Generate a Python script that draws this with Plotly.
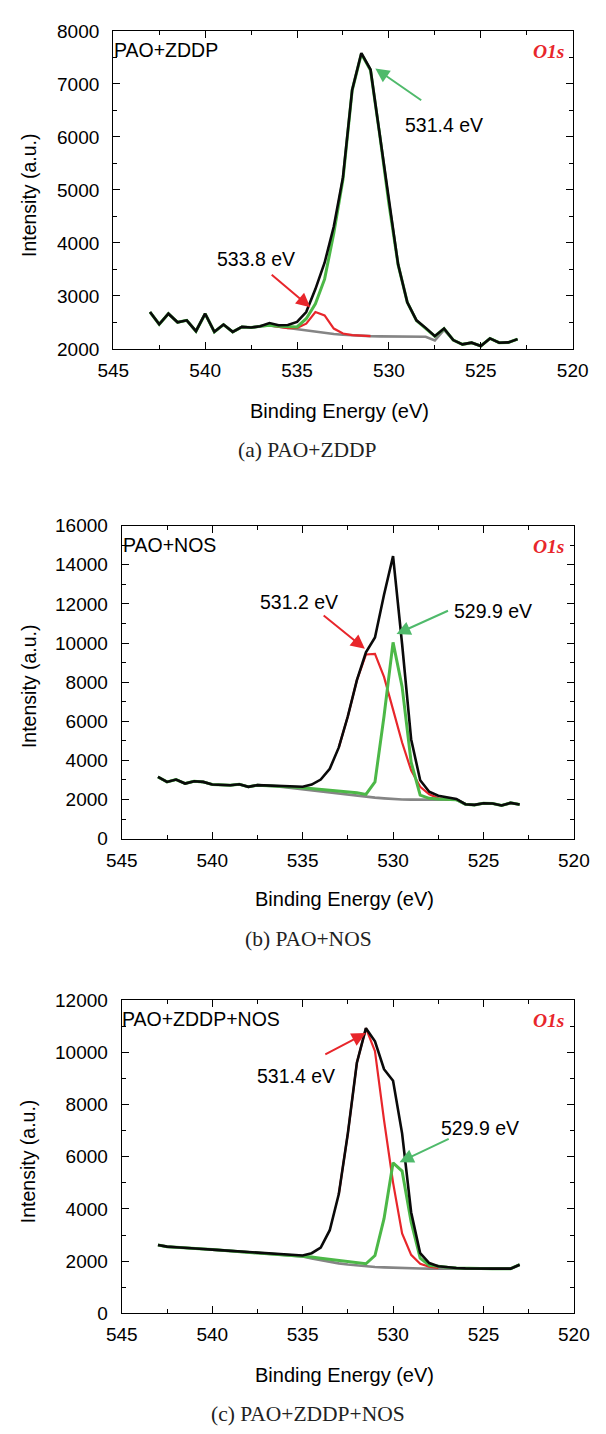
import plotly.graph_objects as go

W, H = 606, 1434

# ---------------- data ----------------
energy = [543, 542.5, 542, 541.5, 541, 540.5, 540, 539.5, 539, 538.5, 538, 537.5, 537,
          536.5, 536, 535.5, 535, 534.5, 534, 533.5, 533, 532.5, 532, 531.5, 531, 530.5,
          530, 529.5, 529, 528.5, 528, 527.5, 527, 526.5, 526, 525.5, 525, 524.5, 524,
          523.5, 523]

# (a) PAO+ZDDP
a_total = [2696, 2466, 2665, 2503, 2540, 2335, 2665, 2323, 2460, 2323, 2416, 2404, 2428,
           2490, 2447, 2453, 2509, 2696, 3130, 3627, 4311, 5242, 6888, 7584, 7273, 6050,
           4745, 3596, 2882, 2540, 2398, 2242, 2385, 2168, 2087, 2118, 2056, 2199, 2118,
           2124, 2186]
a_bg = [2696, 2466, 2665, 2503, 2540, 2335, 2665, 2323, 2460, 2323, 2416, 2404, 2428,
        2445, 2420, 2395, 2370, 2345, 2320, 2300, 2283, 2268, 2256, 2248, 2242, 2238,
        2235, 2233, 2232, 2231, 2230, 2160, 2360, 2168, 2087, 2118, 2056, 2199, 2118,
        2124, 2186]
a_peak1 = [2696, 2466, 2665, 2503, 2540, 2335, 2665, 2323, 2460, 2323, 2416, 2404, 2428,
           2445, 2430, 2420, 2416, 2571, 2851, 3317, 4186, 5200, 6880, 7570, 7260, 6040,
           4740, 3590, 2880, 2535, 2395, 2240, 2385, 2168, 2087, 2118, 2056, 2199, 2118,
           2124, 2186]
a_peak2 = [None, None, None, None, None, None, None, None, None, None, None, None, None,
           2445, 2420, 2395, 2398, 2478, 2696, 2634, 2385, 2292, 2262, 2250, 2242, None,
           None, None, None, None, None, None, None, None, None, None, None, None, None,
           None, None]

# (b) PAO+NOS
b_total = [3154, 2903, 3020, 2819, 2936, 2903, 2768, 2752, 2735, 2785, 2651, 2735, 2718,
           2701, 2668, 2651, 2651, 2768, 3020, 3574, 4664, 6258, 8104, 9530, 10285, 12466,
           14446, 9950, 5084, 2987, 2399, 2198, 2114, 2030, 1762, 1728, 1812, 1795, 1695,
           1829, 1745]
b_bg = [3154, 2903, 3020, 2819, 2936, 2903, 2768, 2752, 2735, 2785, 2651, 2735, 2718,
        2680, 2630, 2575, 2517, 2465, 2415, 2365, 2315, 2260, 2205, 2150, 2097, 2060,
        2025, 2005, 1995, 1990, 1990, 1995, 2000, 1990, 1762, 1728, 1812, 1795, 1695,
        1829, 1745]
b_peak1 = [3154, 2903, 3020, 2819, 2936, 2903, 2768, 2752, 2735, 2785, 2651, 2735, 2718,
           2700, 2670, 2635, 2600, 2560, 2520, 2477, 2433, 2390, 2349, 2265, 2903, 6258,
           10034, 7769, 3910, 2231, 2064, 2030, 2013, 1990, 1762, 1728, 1812, 1795, 1695,
           1829, 1745]
b_peak2 = [None, None, None, None, None, None, None, None, None, None, None, None, None,
           None, None, None, None, None, None, None, 4664, 6258, 8104, 9413, 9447, 8272,
           6594, 4916, 3490, 2651, 2265, 2064, 2013, 1990, None, None, None, None, None,
           None, None]

# (c) PAO+ZDDP+NOS
c_total = [2619, 2556, 2531, 2518, 2493, 2468, 2443, 2418, 2392, 2367, 2342, 2317, 2292,
           2266, 2254, 2229, 2216, 2304, 2518, 3186, 4571, 6900, 9608, 10930, 10426, 9356,
           8915, 6900, 3878, 2304, 1927, 1801, 1763, 1738, 1725, 1712, 1712, 1712, 1712,
           1712, 1864]
c_bg = [2619, 2556, 2531, 2518, 2493, 2468, 2443, 2418, 2392, 2367, 2342, 2317, 2292,
        2266, 2254, 2229, 2180, 2100, 2030, 1970, 1915, 1870, 1830, 1800, 1778, 1760,
        1745, 1735, 1725, 1718, 1714, 1712, 1712, 1712, 1712, 1712, 1712, 1712, 1712,
        1712, 1864]
c_peak1 = [2619, 2556, 2531, 2518, 2493, 2468, 2443, 2418, 2392, 2367, 2342, 2317, 2292,
           2266, 2254, 2229, 2205, 2155, 2110, 2065, 2025, 1985, 1945, 1900, 2216, 3627,
           5768, 5453, 3500, 2116, 1839, 1790, 1763, 1738, 1725, 1712, 1712, 1712, 1712,
           1712, 1864]
c_peak2 = [None, None, None, None, None, None, None, None, None, None, None, None, None,
           None, None, None, None, None, None, None, 4571, 6900, 9608, 10930, 10050, 7404,
           5012, 3060, 2242, 1902, 1788, 1738, None, None, None, None, None, None, None,
           None, None]

sample_names = ["PAO+ZDDP", "PAO+NOS", "PAO+ZDDP+NOS"]
captions = ["(a) PAO+ZDDP", "(b) PAO+NOS", "(c) PAO+ZDDP+NOS"]
y_ranges = [[2000, 8000], [0, 16000], [0, 12000]]
y_dticks = [1000, 2000, 2000]
y_minor = [500, 1000, 1000]

# ---------------- style ----------------
SANS = "Liberation Sans, Arial, sans-serif"
SERIF = "Liberation Serif, Times New Roman, serif"
BLACK = "#0a0a0a"
GREEN = "#4cb847"
RED = "#e8262b"
GREY = "#858585"
ARROW_GREEN = "#4fba6b"


def px(x):
    return x / W


def py(y):
    return 1 - y / H


# panel pixel boxes: left, right, top, bottom
boxes = [(102.7, 587.7, 21.3, 344.0),
         (111.7, 589.0, 523.3, 841.0),
         (111.7, 589.0, 1005.0, 1322.7)]

fig = go.Figure()

panels = [
    (a_total, a_bg, a_peak1, a_peak2),
    (b_total, b_bg, b_peak1, b_peak2),
    (c_total, c_bg, c_peak1, c_peak2),
]

for i, (tot, bg, green_s, red_s) in enumerate(panels):
    xa = "x" if i == 0 else f"x{i+1}"
    ya = "y" if i == 0 else f"y{i+1}"
    fig.add_trace(go.Scatter(x=energy, y=bg, mode="lines", xaxis=xa, yaxis=ya,
                             line=dict(color=GREY, width=2.6), showlegend=False,
                             name="Background"))
    fig.add_trace(go.Scatter(x=energy, y=red_s, mode="lines", xaxis=xa, yaxis=ya,
                             line=dict(color=RED, width=2.2), showlegend=False,
                             connectgaps=False, name="Peak red"))
    fig.add_trace(go.Scatter(x=energy, y=green_s, mode="lines", xaxis=xa, yaxis=ya,
                             line=dict(color=GREEN, width=3), showlegend=False,
                             name="Peak green"))
    fig.add_trace(go.Scatter(x=energy, y=tot, mode="lines", xaxis=xa, yaxis=ya,
                             line=dict(color=BLACK, width=2.6), showlegend=False,
                             name="Raw"))

axis_common = dict(
    showline=True, linecolor="black", linewidth=1.3, mirror="ticks",
    ticks="inside", ticklen=7, tickwidth=1.3, tickcolor="black",
    showgrid=False, zeroline=False,
    tickfont=dict(family=SANS, size=19, color="black"),
)

layout = dict(width=W, height=H, margin=dict(l=0, r=0, t=0, b=0),
              plot_bgcolor="white", paper_bgcolor="white", showlegend=False)

for i, (l, r, t, b) in enumerate(boxes):
    xk = "xaxis" if i == 0 else f"xaxis{i+1}"
    yk = "yaxis" if i == 0 else f"yaxis{i+1}"
    ya = "y" if i == 0 else f"y{i+1}"
    xa = "x" if i == 0 else f"x{i+1}"
    layout[xk] = dict(axis_common, domain=[px(l), px(r)], anchor=ya,
                      range=[545, 520], dtick=5, tick0=520,
                      ticklabelstandoff=4,
                      minor=dict(dtick=2.5, tick0=520, ticks="inside", ticklen=4,
                                 tickwidth=1.3, tickcolor="black"))
    layout[yk] = dict(axis_common, domain=[py(b), py(t)], anchor=xa,
                      range=y_ranges[i], dtick=y_dticks[i], tick0=0,
                      tickformat="d", ticklabelstandoff=9,
                      minor=dict(dtick=y_minor[i], tick0=0, ticks="inside", ticklen=4,
                                 tickwidth=1.3, tickcolor="black"))

fig.update_layout(**layout)

ann = []
# axis titles, captions, sample names, O1s
xtitle_pos = [(341.6, 407.0), (346.4, 902.0), (346.4, 1385.0)]
ytitle_pos = [(13.5, 188.0), (13.0, 685.8), (13.0, 1168.0)]
caption_pos = [(308, 447.0), (309, 943.0), (308, 1425.0)]
name_pos = [(101.5, 41.0), (110.5, 543.0), (110.0, 1024.5)]
o1s_pos = [(581, 42.0), (581, 544.0), (581, 1026.0)]
for i in range(3):
    ann.append(dict(text="Binding Energy (eV)", xref="paper", yref="paper",
                    x=px(xtitle_pos[i][0]), y=py(xtitle_pos[i][1]),
                    xanchor="center", yanchor="middle", showarrow=False,
                    font=dict(family=SANS, size=20, color="black")))
    ann.append(dict(text="Intensity (a.u.)", xref="paper", yref="paper",
                    x=px(ytitle_pos[i][0]), y=py(ytitle_pos[i][1]), textangle=-90,
                    xanchor="center", yanchor="middle", showarrow=False,
                    font=dict(family=SANS, size=19.5, color="black")))
    ann.append(dict(text=captions[i], xref="paper", yref="paper",
                    x=px(caption_pos[i][0]), y=py(caption_pos[i][1]),
                    xanchor="center", yanchor="middle", showarrow=False,
                    font=dict(family=SERIF, size=21.5, color="#222222")))
    ann.append(dict(text=sample_names[i], xref="paper", yref="paper",
                    x=px(name_pos[i][0]), y=py(name_pos[i][1]),
                    xanchor="left", yanchor="middle", showarrow=False,
                    font=dict(family=SANS, size=19.5, color="black")))
    ann.append(dict(text="<b><i>O1s</i></b>", xref="paper", yref="paper",
                    x=px(o1s_pos[i][0]), y=py(o1s_pos[i][1]),
                    xanchor="right", yanchor="middle", showarrow=False,
                    font=dict(family=SERIF, size=19.5, color=RED)))

# peak labels (text) in paper coords
peak_labels = [
    ("531.4 eV", 452.0, 117.0), ("533.8 eV", 253.0, 252.5),
    ("531.2 eV", 299.0, 601.0), ("529.9 eV", 503.3, 609.5),
    ("531.4 eV", 295.8, 1082.0), ("529.9 eV", 490.0, 1135.0),
]
for txt, x0, y0 in peak_labels:
    ann.append(dict(text=txt, xref="paper", yref="paper", x=px(x0), y=py(y0),
                    xanchor="center", yanchor="middle", showarrow=False,
                    font=dict(family=SANS, size=19.5, color="black")))

# arrows: (axis suffix, head x, head y, tail x, tail y, colour)
arrows = [
    ("", 530.74, 7294, 528.16, 6673, ARROW_GREEN),
    ("", 534.28, 2787, 536.46, 3426, RED),
    ("2", 531.56, 9705, 533.92, 11467, RED),
    ("2", 529.81, 10460, 526.88, 11684, ARROW_GREEN),
    ("3", 531.51, 10742, 533.83, 9896, RED),
    ("3", 529.64, 5794, 526.84, 6712, ARROW_GREEN),
]
for sfx, hx, hy, tx, ty, col in arrows:
    ann.append(dict(text="", xref="x" + sfx, yref="y" + sfx, x=hx, y=hy,
                    axref="x" + sfx, ayref="y" + sfx, ax=tx, ay=ty,
                    showarrow=True, arrowhead=2, arrowsize=1.4, arrowwidth=2,
                    arrowcolor=col, standoff=0))

fig.update_layout(annotations=ann)
fig.write_html("out.html")
